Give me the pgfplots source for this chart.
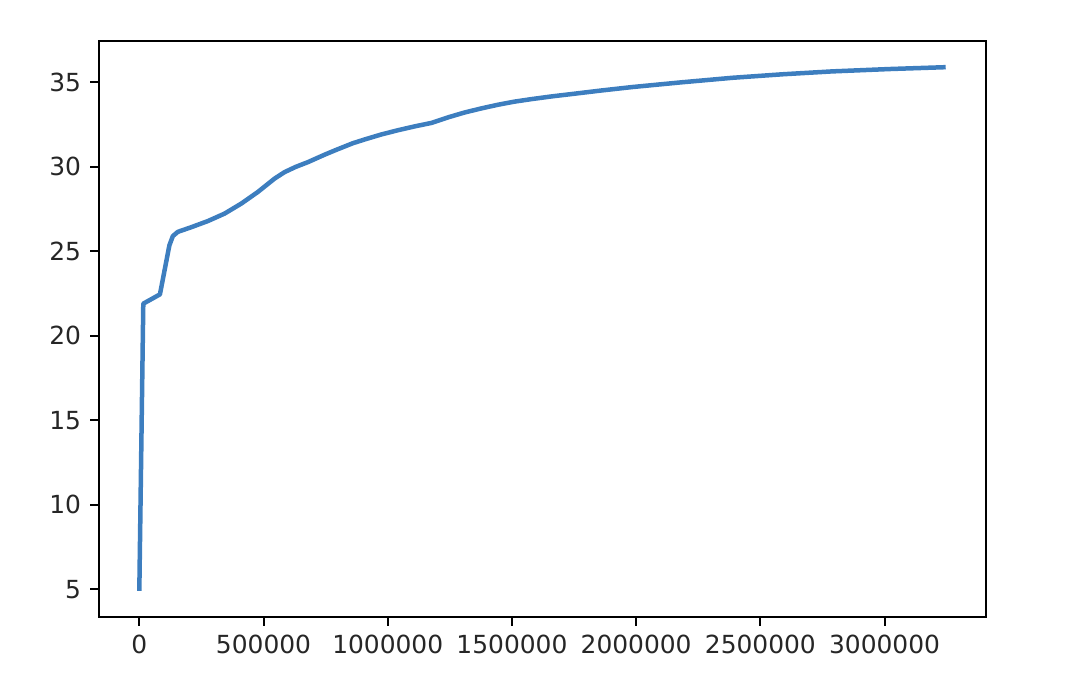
\documentclass[border=0pt]{standalone}
\usepackage{fontspec}
\setmainfont{DejaVu Sans}
\usepackage{pgfplots}
\pgfplotsset{compat=1.18}
\definecolor{lineblue}{HTML}{3D7EBF}
\definecolor{ticktext}{HTML}{262626}
\begin{document}
\begin{tikzpicture}
\useasboundingbox (0,0) rectangle (432bp,273.6bp);
\begin{axis}[
  at={(39.6bp,26.8bp)}, anchor=south west,
  scale only axis, width=354.8bp, height=230.4bp,
  xmin=-162300, xmax=3408300,
  ymin=3.35, ymax=37.45,
  xtick={0,500000,1000000,1500000,2000000,2500000,3000000},
  ytick={5,10,15,20,25,30,35},
  scaled x ticks=false,
  xticklabel style={/pgf/number format/fixed,/pgf/number format/1000 sep={}},
  /pgf/number format/assume math mode=true,
  tick label style={font=\fontsize{10}{12}\selectfont, text=ticktext},
  tick align=outside, major tick length=3.5bp,
  tick style={black, line width=0.8bp},
  xtick pos=bottom, ytick pos=left,
  axis line style={black, line width=0.8bp},
  yticklabel style={inner sep=0pt, xshift=-3.5bp},
  xticklabel style={inner sep=0pt, yshift=-3.5bp},
]
\addplot[color=lineblue, line width=1.8bp, line join=round, line cap=butt] coordinates {
(0,4.9)
(16000,21.9)
(83000,22.45)
(121000,25.35)
(135000,25.9)
(155000,26.15)
(208000,26.42)
(276000,26.79)
(343000,27.23)
(410000,27.82)
(477000,28.51)
(544000,29.30)
(585000,29.69)
(630000,30.0)
(679000,30.28)
(746000,30.72)
(800000,31.05)
(860000,31.4)
(907000,31.62)
(975000,31.92)
(1042000,32.17)
(1110000,32.4)
(1176000,32.6)
(1243000,32.93)
(1310000,33.22)
(1380000,33.47)
(1445000,33.68)
(1510000,33.86)
(1579000,34.01)
(1660000,34.17)
(1741000,34.31)
(1860000,34.52)
(1982000,34.72)
(2180000,35.0)
(2386000,35.27)
(2590000,35.48)
(2789000,35.65)
(3020000,35.79)
(3246000,35.9)
};
\end{axis}
\end{tikzpicture}
\end{document}
